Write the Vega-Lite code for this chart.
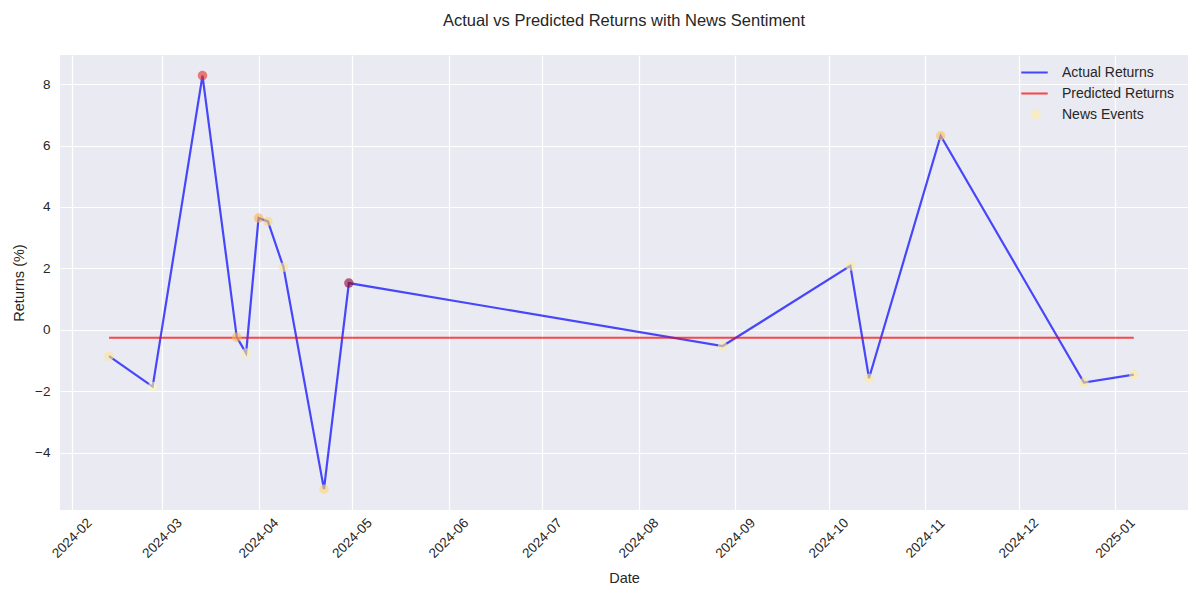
{
  "$schema": "https://vega.github.io/schema/vega-lite/v6.json",
  "autosize": "none",
  "width": 1128,
  "height": 455,
  "padding": {"left": 60, "top": 55, "right": 12, "bottom": 90},
  "background": "white",
  "title": {
    "text": "Actual vs Predicted Returns with News Sentiment",
    "font": "Liberation Sans",
    "fontSize": 16.5,
    "fontWeight": "normal",
    "color": "#262626",
    "anchor": "middle",
    "offset": 26
  },
  "config": {
    "view": {"fill": "#eaeaf2", "stroke": null},
    "axis": {
      "domain": false,
      "ticks": false,
      "grid": true,
      "gridColor": "white",
      "gridWidth": 1.2,
      "labelFont": "Liberation Sans",
      "labelFontSize": 13.5,
      "labelColor": "#262626",
      "titleFont": "Liberation Sans",
      "titleFontSize": 14.5,
      "titleFontWeight": "normal",
      "titleColor": "#262626"
    }
  },
  "data": {
    "values": [
      {"date": "2024-02-13", "Actual Returns": -0.86, "Predicted Returns": -0.26, "sentiment": 0.18},
      {"date": "2024-02-27", "Actual Returns": -1.85, "Predicted Returns": -0.26, "sentiment": 0.06},
      {"date": "2024-03-14", "Actual Returns": 8.28, "Predicted Returns": -0.26, "sentiment": 0.72},
      {"date": "2024-03-25", "Actual Returns": -0.24, "Predicted Returns": -0.26, "sentiment": 0.35},
      {"date": "2024-03-28", "Actual Returns": -0.76, "Predicted Returns": -0.26, "sentiment": 0.12},
      {"date": "2024-04-01", "Actual Returns": 3.64, "Predicted Returns": -0.26, "sentiment": 0.38},
      {"date": "2024-04-04", "Actual Returns": 3.53, "Predicted Returns": -0.26, "sentiment": 0.26},
      {"date": "2024-04-09", "Actual Returns": 2.04, "Predicted Returns": -0.26, "sentiment": 0.18},
      {"date": "2024-04-22", "Actual Returns": -5.19, "Predicted Returns": -0.26, "sentiment": 0.26},
      {"date": "2024-04-30", "Actual Returns": 1.52, "Predicted Returns": -0.26, "sentiment": 0.97},
      {"date": "2024-08-28", "Actual Returns": -0.53, "Predicted Returns": -0.26, "sentiment": 0.14},
      {"date": "2024-10-08", "Actual Returns": 2.08, "Predicted Returns": -0.26, "sentiment": 0.14},
      {"date": "2024-10-14", "Actual Returns": -1.58, "Predicted Returns": -0.26, "sentiment": 0.14},
      {"date": "2024-11-06", "Actual Returns": 6.32, "Predicted Returns": -0.26, "sentiment": 0.33},
      {"date": "2024-12-22", "Actual Returns": -1.72, "Predicted Returns": -0.26, "sentiment": 0.16},
      {"date": "2025-01-07", "Actual Returns": -1.46, "Predicted Returns": -0.26, "sentiment": 0.14}
    ]
  },
  "encoding": {
    "x": {
      "field": "date",
      "type": "temporal",
      "title": "Date",
      "scale": {
        "type": "utc",
        "domain": [
          {"year": 2024, "month": 1, "date": 28, "hours": 6, "utc": true},
          {"year": 2025, "month": 1, "date": 24, "hours": 10, "utc": true}
        ],
        "nice": false
      },
      "axis": {
        "tickCount": {"interval": "month", "step": 1},
        "format": "%Y-%m",
        "labelAngle": -45,
        "labelAlign": "center",
        "labelBaseline": "middle",
        "labelPadding": 28,
        "titlePadding": 11,
        "labelFlush": false,
        "labelOverlap": false
      }
    }
  },
  "layer": [
    {
      "transform": [{"fold": ["Actual Returns", "Predicted Returns"], "as": ["series", "value"]}],
      "mark": {"type": "line", "strokeWidth": 2.2, "opacity": 0.7},
      "encoding": {
        "y": {
          "field": "value",
          "type": "quantitative",
          "title": "Returns (%)",
          "scale": {"domain": [-5.87, 8.95], "nice": false, "zero": false},
          "axis": {"values": [-4, -2, 0, 2, 4, 6, 8], "labelPadding": 10, "titlePadding": 8}
        },
        "color": {
          "field": "series",
          "type": "nominal",
          "scale": {
            "domain": ["Actual Returns", "Predicted Returns"],
            "range": ["#0000ff", "#ff0000"]
          },
          "legend": {
            "title": null,
            "orient": "none",
            "legendX": 960,
            "legendY": 10,
            "padding": 0,
            "labelFont": "Liberation Sans",
            "labelFontSize": 14,
            "labelColor": "#262626",
            "labelOffset": 13,
            "rowPadding": 6,
            "clipHeight": 15,
            "symbolType": "stroke",
            "symbolSize": 700,
            "symbolStrokeWidth": 2,
            "symbolOpacity": 0.7
          }
        }
      }
    },
    {
      "mark": {"type": "point", "filled": true, "size": 90, "opacity": 0.6, "strokeWidth": 0},
      "encoding": {
        "y": {"field": "Actual Returns", "type": "quantitative"},
        "fill": {
          "field": "sentiment",
          "type": "quantitative",
          "scale": {
            "domain": [0, 0.125, 0.25, 0.375, 0.5, 0.625, 0.75, 0.875, 1],
            "range": ["#ffffcc", "#ffeda0", "#fed976", "#feb24c", "#fd8d3c", "#fc4e2a", "#e31a1c", "#bd0026", "#800026"]
          },
          "legend": null
        },
        "shape": {
          "datum": "News Events",
          "scale": {"domain": ["News Events"], "range": ["circle"]},
          "legend": {
            "title": null,
            "orient": "none",
            "legendX": 969,
            "legendY": 52,
            "padding": 0,
            "labelFont": "Liberation Sans",
            "labelFontSize": 14,
            "labelColor": "#262626",
            "labelOffset": 19,
            "clipHeight": 15,
            "symbolSize": 90,
            "symbolFillColor": "#ffeda0",
            "symbolStrokeColor": "transparent",
            "symbolStrokeWidth": 0,
            "symbolOpacity": 0.6
          }
        }
      }
    }
  ]
}
